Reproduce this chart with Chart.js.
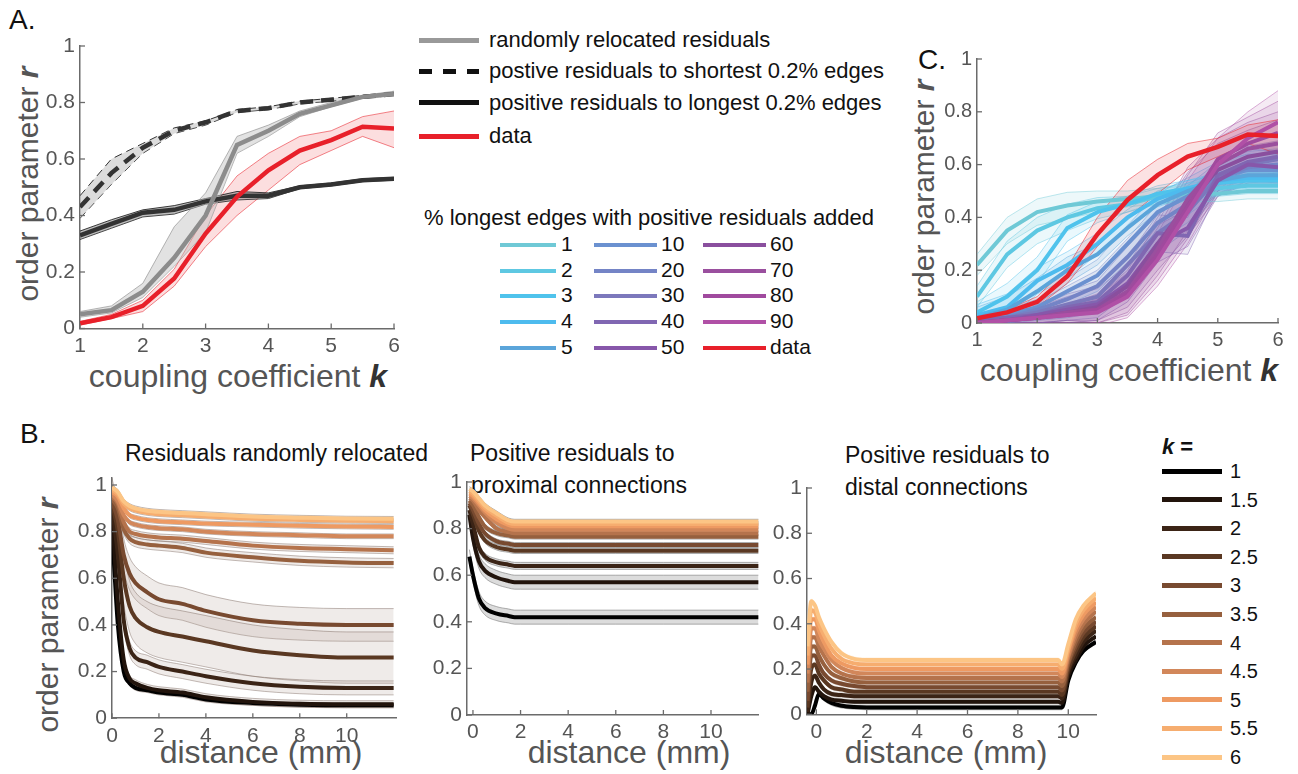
<!DOCTYPE html>
<html>
<head>
<meta charset="utf-8">
<script src="https://cdn.jsdelivr.net/npm/chart.js"></script>
<style>
  body { margin: 0; background: #fff; width: 1298px; height: 774px; position: relative; overflow: hidden;
         font-family: "Liberation Sans", Arial, sans-serif; }
  .t { position: absolute; white-space: nowrap; line-height: 1; color: #111; }
  .g { color: #555; }
  .box { position: absolute; }
  .ln { position: absolute; height: 5px; }
  .rot { transform: translate(-50%, -50%) rotate(-90deg); }
  .ctr { transform: translate(-50%, -50%); }
</style>
</head>
<body>

<!-- panel labels -->
<div class="t" style="left:9px;top:6px;font-size:28px;">A.</div>
<div class="t" style="left:918px;top:46px;font-size:28px;">C.</div>
<div class="t" style="left:20px;top:420px;font-size:28px;">B.</div>

<!-- axis titles -->
<div class="t g rot" style="left:28px;top:184px;font-size:30px;">order parameter <b><i>r</i></b></div>
<div class="t g ctr" style="left:238px;top:376px;font-size:32px;">coupling coefficient <b><i style="color:#333">k</i></b></div>
<div class="t g rot" style="left:924px;top:197px;font-size:30px;">order parameter <b><i>r</i></b></div>
<div class="t g ctr" style="left:1129px;top:370px;font-size:32px;">coupling coefficient <b><i style="color:#333">k</i></b></div>
<div class="t g rot" style="left:48px;top:615px;font-size:30px;">order parameter <b><i>r</i></b></div>
<div class="t g ctr" style="left:261px;top:752px;font-size:32px;">distance (mm)</div>
<div class="t g ctr" style="left:629px;top:752px;font-size:32px;">distance (mm)</div>
<div class="t g ctr" style="left:946px;top:752px;font-size:32px;">distance (mm)</div>

<!-- B titles -->
<div class="t" style="left:125px;top:442px;font-size:23px;">Residuals randomly relocated</div>
<div class="t" style="left:470px;top:442px;font-size:23px;">Positive residuals to</div>
<div class="t" style="left:471px;top:474px;font-size:23px;">proximal connections</div>
<div class="t" style="left:845px;top:444px;font-size:23px;">Positive residuals to</div>
<div class="t" style="left:845px;top:476px;font-size:23px;">distal connections</div>

<!-- legend A -->
<div class="ln" style="left:419px;top:38px;width:60px;background:#999;"></div>
<div class="t" style="left:489px;top:29px;font-size:22px;">randomly relocated residuals</div>
<div class="ln" style="left:419px;top:69px;width:60px;background:repeating-linear-gradient(to right,#111 0 13px,transparent 13px 24px);"></div>
<div class="t" style="left:489px;top:60px;font-size:22px;">postive residuals to shortest 0.2% edges</div>
<div class="ln" style="left:419px;top:100px;width:60px;background:#111;"></div>
<div class="t" style="left:489px;top:92px;font-size:22px;">positive residuals to longest 0.2% edges</div>
<div class="ln" style="left:419px;top:134px;width:60px;background:#e8202a;"></div>
<div class="t" style="left:489px;top:125px;font-size:22px;">data</div>

<div class="t" style="left:424px;top:207px;font-size:22px;">% longest edges with positive residuals added</div>
<div id="legC"></div>
<div id="legK"></div>

<script>
// ---------- data ----------
const kVals = [1, 1.5, 2, 2.5, 3, 3.5, 4, 4.5, 5, 5.5, 6];

// panel A
const randMean  = [0.05, 0.065, 0.13, 0.25, 0.40, 0.65, 0.70, 0.76, 0.79, 0.82, 0.83];
const randUp    = [0.06, 0.08, 0.16, 0.36, 0.48, 0.68, 0.72, 0.77, 0.80, 0.825, 0.84];
const randLo    = [0.04, 0.055, 0.11, 0.22, 0.34, 0.62, 0.68, 0.75, 0.785, 0.815, 0.825];
const shortMean = [0.43, 0.55, 0.64, 0.70, 0.73, 0.77, 0.78, 0.80, 0.81, 0.82, 0.83];
const shortUp   = [0.47, 0.60, 0.655, 0.71, 0.735, 0.775, 0.785, 0.805, 0.815, 0.825, 0.835];
const shortLo   = [0.39, 0.51, 0.62, 0.69, 0.72, 0.765, 0.775, 0.795, 0.805, 0.815, 0.825];
const longMean  = [0.33, 0.37, 0.41, 0.42, 0.45, 0.47, 0.47, 0.50, 0.51, 0.525, 0.53];
const longUp    = [0.345, 0.385, 0.42, 0.435, 0.46, 0.485, 0.48, 0.505, 0.515, 0.53, 0.535];
const longLo    = [0.315, 0.355, 0.395, 0.405, 0.44, 0.455, 0.46, 0.495, 0.505, 0.52, 0.525];
const dataMean  = [0.018, 0.04, 0.08, 0.177, 0.336, 0.466, 0.56, 0.63, 0.667, 0.714, 0.708];
const dataUp    = [0.025, 0.05, 0.10, 0.21, 0.40, 0.54, 0.62, 0.68, 0.70, 0.75, 0.77];
const dataLo    = [0.012, 0.035, 0.06, 0.15, 0.29, 0.40, 0.49, 0.58, 0.63, 0.68, 0.64];

// panel C
const cLabels = ['1', '2', '3', '4', '5', '10', '20', '30', '40', '50', '60', '70', '80', '90', 'data'];
const cColors = ['#6fc9d6', '#5ec8e2', '#4fc3ec', '#4dbbee', '#5ba5da', '#6b91d0', '#7484c6', '#7c78bc',
                 '#8067b2', '#8757aa', '#8a4f9e', '#9a4f9e', '#a04a9e', '#b050a6', '#e8202a'];
const c1  = [0.22, 0.35, 0.42, 0.445, 0.46, 0.47, 0.48, 0.49, 0.49, 0.50, 0.50];
const c2  = [0.10, 0.26, 0.35, 0.40, 0.435, 0.45, 0.48, 0.50, 0.51, 0.52, 0.52];
const c3  = [0.04, 0.10, 0.20, 0.36, 0.42, 0.45, 0.49, 0.51, 0.53, 0.54, 0.54];
const c4  = [0.03, 0.06, 0.16, 0.22, 0.30, 0.40, 0.47, 0.51, 0.54, 0.55, 0.55];
const c5  = [0.02, 0.05, 0.12, 0.20, 0.26, 0.36, 0.45, 0.50, 0.54, 0.56, 0.56];
const c10 = [0.01, 0.03, 0.06, 0.12, 0.18, 0.30, 0.42, 0.48, 0.55, 0.58, 0.58];
const c20 = [0.01, 0.02, 0.05, 0.09, 0.14, 0.25, 0.38, 0.45, 0.55, 0.59, 0.60];
const c30 = [0.01, 0.02, 0.04, 0.07, 0.10, 0.22, 0.34, 0.42, 0.55, 0.60, 0.62];
const c40 = [0.01, 0.02, 0.03, 0.06, 0.08, 0.18, 0.34, 0.33, 0.56, 0.61, 0.63];
const c50 = [0.00, 0.01, 0.03, 0.05, 0.07, 0.15, 0.30, 0.36, 0.54, 0.60, 0.59];
const c60 = [0.00, 0.01, 0.02, 0.04, 0.06, 0.14, 0.30, 0.45, 0.58, 0.63, 0.65];
const c70 = [0.00, 0.01, 0.02, 0.04, 0.05, 0.12, 0.28, 0.47, 0.60, 0.66, 0.68];
const c80 = [0.00, 0.01, 0.02, 0.03, 0.05, 0.11, 0.26, 0.44, 0.62, 0.68, 0.72];
const c90 = [0.00, 0.01, 0.02, 0.03, 0.04, 0.10, 0.24, 0.42, 0.60, 0.70, 0.76];
const cSeries = [c1, c2, c3, c4, c5, c10, c20, c30, c40, c50, c60, c70, c80, c90];
const cSpreadCyan   = [0.04, 0.05, 0.05, 0.05, 0.04, 0.03, 0.03, 0.03, 0.03, 0.03, 0.03];
const cSpreadBlue   = [0.02, 0.02, 0.03, 0.05, 0.06, 0.07, 0.07, 0.07, 0.06, 0.06, 0.06];
const cSpreadPurple = [0.01, 0.01, 0.02, 0.03, 0.05, 0.08, 0.10, 0.12, 0.10, 0.10, 0.12];

// panel B
const bLabels = ['1', '1.5', '2', '2.5', '3', '3.5', '4', '4.5', '5', '5.5', '6'];
const bColors = ['#000000', '#22140c', '#3b2416', '#5a3822', '#784a30', '#96603e',
                 '#b5734c', '#d2875a', '#ee9a62', '#f6ad6f', '#fcc585'];

const b1Dist = [0, 0.25, 0.5, 0.75, 1, 1.5, 2, 3, 4, 6, 8, 10, 12];
const b1k1   = [0.81, 0.40, 0.20, 0.15, 0.13, 0.12, 0.11, 0.10, 0.08, 0.065, 0.058, 0.055, 0.055];
const b1k15  = [0.88, 0.50, 0.25, 0.17, 0.15, 0.13, 0.12, 0.11, 0.09, 0.07, 0.062, 0.06, 0.06];
const b1k2   = [0.90, 0.70, 0.42, 0.30, 0.26, 0.24, 0.22, 0.20, 0.18, 0.15, 0.135, 0.13, 0.13];
const b1k25  = [0.92, 0.80, 0.60, 0.48, 0.43, 0.39, 0.37, 0.35, 0.33, 0.29, 0.27, 0.26, 0.26];
const b1k3   = [0.93, 0.85, 0.70, 0.62, 0.58, 0.54, 0.51, 0.49, 0.46, 0.42, 0.405, 0.40, 0.40];
const b1k35  = [0.94, 0.90, 0.81, 0.77, 0.755, 0.745, 0.74, 0.73, 0.71, 0.69, 0.675, 0.668, 0.665];
const b1k4   = [0.95, 0.92, 0.84, 0.80, 0.79, 0.78, 0.775, 0.77, 0.76, 0.74, 0.73, 0.725, 0.72];
const b1k45  = [0.96, 0.93, 0.87, 0.84, 0.83, 0.82, 0.815, 0.81, 0.80, 0.79, 0.785, 0.78, 0.78];
const b1k5   = [0.97, 0.95, 0.90, 0.87, 0.86, 0.85, 0.845, 0.84, 0.835, 0.83, 0.825, 0.822, 0.82];
const b1k55  = [0.98, 0.96, 0.92, 0.90, 0.89, 0.88, 0.875, 0.87, 0.865, 0.855, 0.85, 0.847, 0.845];
const b1k6   = [0.99, 0.97, 0.93, 0.91, 0.90, 0.89, 0.885, 0.88, 0.875, 0.865, 0.86, 0.856, 0.855];
const b1Series = [b1k1, b1k15, b1k2, b1k25, b1k3, b1k35, b1k4, b1k45, b1k5, b1k55, b1k6];
const b1Spread = [0.01, 0.015, 0.03, 0.11, 0.07, 0.02, 0.015, 0.01, 0.01, 0.01, 0.01];

const b2Dist = [-0.15, 0, 0.25, 0.5, 1, 1.5, 1.75, 2, 4, 6, 8, 10, 12];
const b2k1   = [0.68, 0.60, 0.50, 0.46, 0.435, 0.425, 0.42, 0.42, 0.42, 0.42, 0.42, 0.42, 0.42];
const b2k15  = [0.86, 0.76, 0.66, 0.62, 0.59, 0.575, 0.57, 0.57, 0.57, 0.57, 0.57, 0.57, 0.57];
const b2k2   = [0.88, 0.82, 0.72, 0.68, 0.655, 0.645, 0.64, 0.64, 0.64, 0.64, 0.64, 0.64, 0.64];
const b2k25  = [0.90, 0.86, 0.79, 0.75, 0.72, 0.71, 0.705, 0.705, 0.705, 0.705, 0.705, 0.705, 0.705];
const b2k3   = [0.91, 0.88, 0.82, 0.78, 0.745, 0.735, 0.73, 0.73, 0.73, 0.73, 0.73, 0.73, 0.73];
const b2k35  = [0.92, 0.90, 0.85, 0.81, 0.78, 0.77, 0.765, 0.765, 0.765, 0.765, 0.765, 0.765, 0.765];
const b2k4   = [0.93, 0.92, 0.88, 0.85, 0.80, 0.785, 0.78, 0.78, 0.78, 0.78, 0.78, 0.78, 0.78];
const b2k45  = [0.94, 0.93, 0.90, 0.87, 0.825, 0.80, 0.795, 0.795, 0.795, 0.795, 0.795, 0.795, 0.795];
const b2k5   = [0.95, 0.94, 0.91, 0.88, 0.84, 0.815, 0.81, 0.81, 0.81, 0.81, 0.81, 0.81, 0.81];
const b2k55  = [0.96, 0.95, 0.92, 0.89, 0.855, 0.825, 0.82, 0.82, 0.82, 0.82, 0.82, 0.82, 0.82];
const b2k6   = [0.97, 0.96, 0.93, 0.90, 0.865, 0.835, 0.83, 0.83, 0.83, 0.83, 0.83, 0.83, 0.83];
const b2Series = [b2k1, b2k15, b2k2, b2k25, b2k3, b2k35, b2k4, b2k45, b2k5, b2k55, b2k6];
const b2Spread = [0.03, 0.03, 0.015, 0.012, 0.01, 0.01, 0.01, 0.01, 0.01, 0.01, 0.01];

const b3Dist = [-0.35, -0.2, -0.05, 0.1, 0.3, 0.6, 1, 1.5, 2, 5, 8, 9.6, 9.75, 10, 10.3, 10.6, 11.1];
const b3k1   = [0.00, 0.00, 0.04, 0.09, 0.07, 0.05, 0.038, 0.032, 0.03, 0.03, 0.03, 0.03, 0.03, 0.15, 0.23, 0.28, 0.32];
const b3k15  = [0.00, 0.08, 0.12, 0.10, 0.08, 0.065, 0.06, 0.055, 0.055, 0.055, 0.055, 0.055, 0.05, 0.17, 0.24, 0.30, 0.345];
const b3k2   = [0.01, 0.14, 0.17, 0.14, 0.11, 0.09, 0.085, 0.08, 0.08, 0.08, 0.08, 0.08, 0.07, 0.19, 0.26, 0.32, 0.37];
const b3k25  = [0.03, 0.20, 0.22, 0.18, 0.15, 0.12, 0.11, 0.10, 0.10, 0.10, 0.10, 0.10, 0.085, 0.20, 0.28, 0.34, 0.39];
const b3k3   = [0.06, 0.26, 0.26, 0.22, 0.18, 0.15, 0.135, 0.125, 0.12, 0.12, 0.12, 0.12, 0.105, 0.22, 0.30, 0.36, 0.41];
const b3k35  = [0.10, 0.30, 0.30, 0.26, 0.22, 0.18, 0.16, 0.145, 0.14, 0.14, 0.14, 0.14, 0.125, 0.23, 0.32, 0.38, 0.43];
const b3k4   = [0.14, 0.34, 0.34, 0.30, 0.26, 0.21, 0.18, 0.165, 0.16, 0.16, 0.16, 0.16, 0.145, 0.25, 0.34, 0.40, 0.455];
const b3k45  = [0.18, 0.38, 0.38, 0.33, 0.29, 0.24, 0.205, 0.185, 0.18, 0.18, 0.18, 0.18, 0.165, 0.26, 0.36, 0.42, 0.475];
const b3k5   = [0.22, 0.42, 0.42, 0.37, 0.32, 0.26, 0.225, 0.205, 0.20, 0.20, 0.20, 0.20, 0.18, 0.28, 0.38, 0.44, 0.495];
const b3k55  = [0.26, 0.46, 0.45, 0.40, 0.35, 0.29, 0.245, 0.225, 0.22, 0.22, 0.22, 0.22, 0.20, 0.29, 0.40, 0.46, 0.515];
const b3k6   = [0.30, 0.50, 0.48, 0.43, 0.38, 0.32, 0.27, 0.245, 0.24, 0.24, 0.24, 0.24, 0.22, 0.31, 0.42, 0.48, 0.535];
const b3Series = [b3k1, b3k15, b3k2, b3k25, b3k3, b3k35, b3k4, b3k45, b3k5, b3k55, b3k6];
const b3Spread = 0.012;

// ---------- helpers ----------
const FONT = '"Liberation Sans", Arial, sans-serif';
const PAD = 22, YW = 60, XH = 40;

function pts(xs, ys) { return xs.map((x, i) => ({ x: x, y: ys[i] })); }
function shifted(ys, d, sign) { return ys.map((v, i) => v + sign * (Array.isArray(d) ? d[i] : d)); }
function hexA(hex, a) {
  const n = parseInt(hex.slice(1), 16);
  return 'rgba(' + (n >> 16) + ',' + ((n >> 8) & 255) + ',' + (n & 255) + ',' + a + ')';
}

function line(xs, ys, color, width, order, extra) {
  return Object.assign({ data: pts(xs, ys), borderColor: color, borderWidth: width, fill: false,
                         tension: 0, order: order, pointRadius: 0 }, extra || {});
}
function band(xs, up, lo, fillColor, edgeColor, order, extra) {
  return [
    Object.assign({ data: pts(xs, up), borderColor: edgeColor, borderWidth: 1, backgroundColor: fillColor,
                    fill: '+1', tension: 0, order: order, pointRadius: 0 }, extra || {}),
    Object.assign({ data: pts(xs, lo), borderColor: edgeColor, borderWidth: 1, fill: false,
                    tension: 0, order: order, pointRadius: 0 }, extra || {})
  ];
}

// inward tick marks, like the original axes
const inTicks = {
  id: 'inTicks',
  afterDatasetsDraw(chart) {
    const { ctx, chartArea: a, scales: { x, y } } = chart;
    ctx.save();
    ctx.strokeStyle = '#6b6b6b';
    ctx.lineWidth = 1.3;
    x.ticks.forEach(t => {
      const px = x.getPixelForValue(t.value);
      ctx.beginPath(); ctx.moveTo(px, a.bottom); ctx.lineTo(px, a.bottom - 5); ctx.stroke();
    });
    y.ticks.forEach(t => {
      const py = y.getPixelForValue(t.value);
      ctx.beginPath(); ctx.moveTo(a.left, py); ctx.lineTo(a.left + 5, py); ctx.stroke();
    });
    ctx.restore();
  }
};

function makeChart(id, box, xr, yr, xStep, xTickMax, tickSize, datasets) {
  const wrap = document.createElement('div');
  wrap.className = 'box';
  wrap.style.left = (box.left - PAD - YW) + 'px';
  wrap.style.top = (box.top - PAD) + 'px';
  wrap.style.width = (box.right - box.left + 2 * PAD + YW) + 'px';
  wrap.style.height = (box.bottom - box.top + 2 * PAD + XH) + 'px';
  const cv = document.createElement('canvas');
  cv.id = id;
  wrap.appendChild(cv);
  document.body.appendChild(wrap);

  return new Chart(cv.getContext('2d'), {
    type: 'line',
    data: { datasets: datasets },
    options: {
      responsive: true,
      maintainAspectRatio: false,
      animation: false,
      layout: { padding: PAD },
      plugins: { legend: { display: false }, tooltip: { enabled: false } },
      elements: { point: { radius: 0 } },
      scales: {
        x: {
          type: 'linear', min: xr[0], max: xr[1],
          grid: { display: false, drawTicks: false },
          border: { color: '#6b6b6b', width: 1.5 },
          ticks: { stepSize: xStep, includeBounds: false, padding: 5, color: '#555', maxRotation: 0,
                   autoSkip: false, font: { family: FONT, size: tickSize } },
          afterBuildTicks: s => { s.ticks = s.ticks.filter(t => t.value <= xTickMax + 1e-9); },
          afterFit: s => { s.height = XH; }
        },
        y: {
          type: 'linear', min: yr[0], max: yr[1],
          grid: { display: false, drawTicks: false },
          border: { color: '#6b6b6b', width: 1.5 },
          ticks: { stepSize: 0.2, includeBounds: false, padding: 5, color: '#555',
                   font: { family: FONT, size: tickSize },
                   callback: v => String(+v.toFixed(1)) },
          afterFit: s => { s.width = YW; }
        }
      }
    },
    plugins: [inTicks]
  });
}

// ---------- panel A ----------
const aSets = [].concat(
  band(kVals, randUp, randLo, 'rgba(190,190,190,0.45)', 'rgba(150,150,150,0.7)', 9),
  band(kVals, shortUp, shortLo, 'rgba(185,185,185,0.5)', 'rgba(30,30,30,0.9)', 9, { borderDash: [8, 5] }),
  band(kVals, longUp, longLo, 'rgba(110,110,110,0.45)', 'rgba(40,40,40,0.9)', 9),
  band(kVals, dataUp, dataLo, 'rgba(232,32,42,0.15)', 'rgba(232,32,42,0.55)', 9),
  [
    line(kVals, dataMean, '#e8202a', 4.5, 0),
    line(kVals, randMean, '#8c8c8c', 4.5, 1),
    line(kVals, shortMean, '#333333', 4.5, 1, { borderDash: [13, 8] }),
    line(kVals, longMean, '#333333', 4.5, 1)
  ]
);
makeChart('chartA', { left: 80, top: 45.5, right: 394, bottom: 328 }, [1, 6], [0, 1], 1, 6, 21, aSets);

// ---------- panel C ----------
const cSets = [];
cSeries.forEach((ys, i) => {
  const sp = i < 5 ? cSpreadCyan : (i < 10 ? cSpreadBlue : cSpreadPurple);
  cSets.push(...band(kVals, shifted(ys, sp, 1), shifted(ys, sp, -1),
                     hexA(cColors[i], 0.12), hexA(cColors[i], 0.45), 20 + i));
  cSets.push(line(kVals, ys, cColors[i], 4, 5 + (13 - i)));
});
cSets.push(...band(kVals, dataUp, dataLo, 'rgba(232,32,42,0.13)', 'rgba(232,32,42,0.5)', 19));
cSets.push(line(kVals, dataMean, '#e8202a', 4.5, 0));
makeChart('chartC', { left: 977, top: 59, right: 1278, bottom: 323 }, [1, 6], [0, 1], 1, 6, 20, cSets);

// ---------- panel B ----------
function bSets(xs, series, spread, fillFn, edgeFn) {
  const out = [];
  series.forEach((ys, i) => {
    const sp = Array.isArray(spread) ? spread[i] : spread;
    out.push(...band(xs, shifted(ys, sp, 1), shifted(ys, sp, -1), fillFn(i), edgeFn(i), 30 + i,
                     { cubicInterpolationMode: 'monotone' }));
  });
  series.forEach((ys, i) => {
    out.push(line(xs, ys, bColors[i], 4, 11 - i, { cubicInterpolationMode: 'monotone' }));
  });
  return out;
}

makeChart('chartB1', { left: 112, top: 477.5, right: 396, bottom: 717.7 }, [0, 12.1], [0, 1.03], 2, 10, 21,
  bSets(b1Dist, b1Series, b1Spread, () => 'rgba(175,155,145,0.2)', () => 'rgba(120,100,90,0.45)'));

makeChart('chartB2', { left: 466.7, top: 482, right: 758.3, bottom: 715 }, [-0.25, 12], [0, 1], 2, 10, 21,
  bSets(b2Dist, b2Series, b2Spread, () => 'rgba(140,140,140,0.3)', () => 'rgba(110,110,110,0.55)'));

makeChart('chartB3', { left: 806.7, top: 488, right: 1095.7, bottom: 714.3 }, [-0.37, 11.1], [0, 1], 2, 10, 21,
  bSets(b3Dist, b3Series, b3Spread, i => hexA(bColors[i], 0.3), () => 'rgba(255,255,255,0.6)'));

// ---------- HTML legends ----------
const legC = document.getElementById('legC');
const colX = [[500, 561], [594, 661], [703, 770]];
const rowY = [252, 278, 303, 329, 355];
cLabels.forEach((lab, i) => {
  const col = Math.floor(i / 5), row = i % 5;
  legC.insertAdjacentHTML('beforeend',
    '<div class="ln" style="left:' + colX[col][0] + 'px;top:' + (rowY[row] - 9) + 'px;width:' +
    (col === 0 ? 56 : 63) + 'px;height:4px;background:' + cColors[i] + ';"></div>' +
    '<div class="t" style="left:' + colX[col][1] + 'px;top:' + (rowY[row] - 19) + 'px;font-size:21px;">' + lab + '</div>');
});

const legK = document.getElementById('legK');
legK.insertAdjacentHTML('beforeend',
  '<div class="t" style="left:1162px;top:436px;font-size:22px;"><b><i>k</i> =</b></div>');
bLabels.forEach((lab, i) => {
  const y = 471 + i * 28.6;
  legK.insertAdjacentHTML('beforeend',
    '<div class="ln" style="left:1162px;top:' + (y - 2.5) + 'px;width:60px;background:' + bColors[i] + ';"></div>' +
    '<div class="t" style="left:1230px;top:' + (y - 10) + 'px;font-size:20px;">' + lab + '</div>');
});
</script>
</body>
</html>
